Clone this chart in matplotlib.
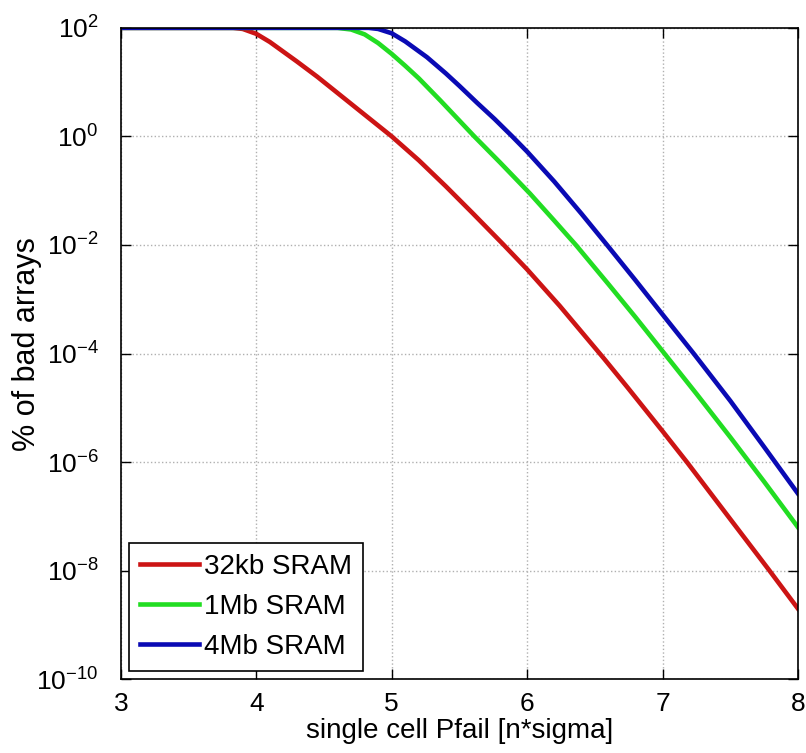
import numpy as np
import matplotlib
matplotlib.use('Agg')
import matplotlib.pyplot as plt

plt.rcParams['font.family'] = ['Liberation Sans', 'DejaVu Sans']
plt.rcParams['mathtext.default'] = 'regular'
plt.rcParams['axes.unicode_minus'] = False

# values, y given as log10(% of bad arrays)
x_32kb = [3.0, 3.83, 3.9, 4.0, 4.1, 4.2, 4.3, 4.45, 4.6, 4.8, 5.0, 5.2, 5.4, 5.6,
          5.82, 6.0, 6.24, 6.57, 6.74, 7.0, 7.18, 7.5, 7.79, 8.0]
log_32kb = [2.0, 2.0, 1.98, 1.89, 1.74, 1.56, 1.38, 1.1, 0.8, 0.4, 0.0, -0.44,
            -0.92, -1.42, -1.98, -2.45, -3.12, -4.1, -4.62, -5.43, -6.0, -7.05, -8.0, -8.7]

x_1mb = [3.0, 4.6, 4.7, 4.8, 4.9, 5.0, 5.1, 5.2, 5.36, 5.61, 5.8, 6.02, 6.2, 6.36,
         6.6, 6.8, 7.03, 7.25, 7.5, 7.75, 8.0]
log_1mb = [2.0, 2.0, 1.97, 1.88, 1.72, 1.52, 1.3, 1.07, 0.66, 0.0, -0.48, -1.05,
           -1.55, -2.0, -2.72, -3.33, -4.05, -4.74, -5.54, -6.36, -7.2]

x_4mb = [3.0, 4.83, 4.9, 5.0, 5.1, 5.26, 5.4, 5.5, 5.63, 5.76, 5.89, 6.0, 6.2, 6.4,
         6.59, 6.8, 7.0, 7.23, 7.5, 7.75, 8.0]
log_4mb = [2.0, 2.0, 1.98, 1.9, 1.75, 1.46, 1.16, 0.93, 0.62, 0.32, 0.0, -0.28,
           -0.83, -1.42, -2.0, -2.65, -3.28, -4.0, -4.87, -5.72, -6.58]

labels = ['32kb SRAM', '1Mb SRAM', '4Mb SRAM']
colors = ['#cc1414', '#22dd22', '#0a0ab4']

xticks = [3, 4, 5, 6, 7, 8]
yticks = [1e2, 1e0, 1e-2, 1e-4, 1e-6, 1e-8, 1e-10]

fig = plt.figure(figsize=(8.06, 7.53), dpi=100)
ax = fig.add_axes([0.150, 0.098, 0.840, 0.865])

series = [(x_32kb, log_32kb), (x_1mb, log_1mb), (x_4mb, log_4mb)]
for (xs, ls), lab, c in zip(series, labels, colors):
    ax.plot(xs, 10.0 ** np.array(ls), color=c, lw=3.3, label=lab,
            solid_joinstyle='round')

ax.set_yscale('log')
ax.set_xlim(3, 8)
ax.set_ylim(1e-10, 1e2)
ax.set_xticks(xticks)
ax.set_yticks(yticks)
ax.yaxis.set_minor_locator(matplotlib.ticker.NullLocator())

ax.grid(True, which='major', ls=':', color='#b0b0b0', lw=1)
ax.tick_params(direction='in', length=7, width=1, labelsize=19,
               top=True, right=True)
ax.tick_params(axis='x', pad=9)
ax.tick_params(axis='y', pad=16)
for s in ax.spines.values():
    s.set_linewidth(1.2)

ax.set_xlabel('single cell Pfail [n*sigma]', fontsize=20, labelpad=2)
ax.set_ylabel('% of bad arrays', fontsize=22)
ax.yaxis.set_label_coords(-0.117, 0.515)

leg = ax.legend(loc='lower left', fontsize=20, fancybox=False, framealpha=1,
                edgecolor='black', handlelength=2.1, handletextpad=0.2,
                borderaxespad=0.3, labelspacing=0.5, borderpad=0.4)
leg.get_frame().set_linewidth(1.2)

fig.savefig('out.png', dpi=100)
